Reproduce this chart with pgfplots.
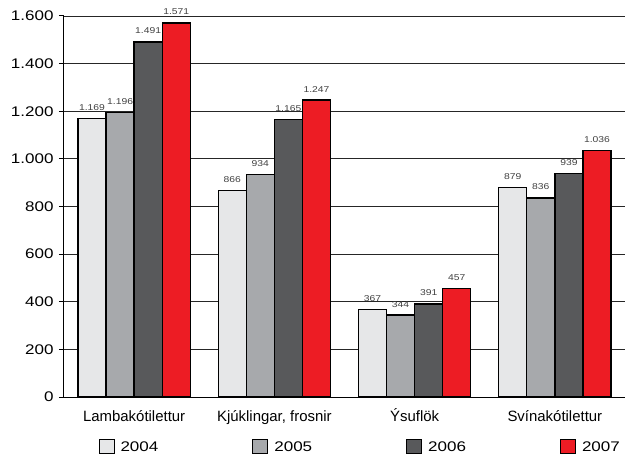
\documentclass[border=0pt]{standalone}
\usepackage{fontspec}
\setmainfont{Liberation Sans}
\newfontfamily\numfont[FakeStretch=1.22]{Liberation Sans}
\usepackage{pgfplots}
\pgfplotsset{compat=1.18}
\definecolor{cA}{HTML}{E6E7E8}
\definecolor{cB}{HTML}{A7A9AC}
\definecolor{cC}{HTML}{58595B}
\definecolor{cD}{HTML}{ED1C24}
\begin{document}
\begin{tikzpicture}
\begin{axis}[name=ax, scale only axis, width=561bp, height=381bp,
  ybar=0pt, bar width=0.2,
  xmin=-0.5, xmax=3.5, ymin=0, ymax=1600,
  ytick={0,200,...,1600},
  xtick={0,1,2,3},
  xticklabels={Lambakótilettur,{Kjúklingar, frosnir},Ýsuflök,Svínakótilettur},
  axis x line*=bottom, axis y line*=left,
  axis line style={black, line width=1bp},
  ymajorgrids, grid style={black!85, line width=0.8bp},
  tick align=outside,
  major tick length=5bp,
  x tick style={draw=none},
  y tick style={black, line width=1bp},
  extra x ticks={-0.5,0.5,1.5,2.5},
  extra x tick labels={},
  extra x tick style={grid=none, major tick length=8bp, tick style={draw=black, line width=1bp}},
  /pgf/number format/.cd, 1000 sep={.}, assume math mode=true, /pgfplots/.cd,
  yticklabel style={font=\numfont\fontsize{14}{16}\selectfont, xshift=-2bp},
  xticklabel style={font=\fontsize{15}{17}\selectfont, text height=11bp, text depth=3bp, yshift=-5bp},
  nodes near coords,
  nodes near coords style={font=\numfont\fontsize{8.5}{10}\selectfont, text=black!75, yshift=4bp},
  legend style={at={(0.528,-0.131)}, anchor=center, legend columns=4, draw=none,
    font=\numfont\fontsize{14}{16}\selectfont,
    /tikz/every odd column/.append style={column sep=4bp},
    /tikz/every even column/.append style={column sep=92bp}},
  legend image code/.code={\draw[#1, draw=black, line width=1bp] (0bp,-6bp) rectangle (15bp,8bp);},
  every axis plot/.append style={draw=black, line width=1.3bp},
]
\addplot[fill=cA] coordinates {(0,1169) (1,866) (2,367) (3,879)};
\addplot[fill=cB] coordinates {(0,1196) (1,934) (2,344) (3,836)};
\addplot[fill=cC] coordinates {(0,1491) (1,1165) (2,391) (3,939)};
\addplot[fill=cD] coordinates {(0,1571) (1,1247) (2,457) (3,1036)};
\legend{2004,2005,2006,2007}
\end{axis}
\pgfresetboundingbox
\path ([shift={(-64bp,-62bp)}]ax.south west) rectangle ++(625bp,459bp);
\end{tikzpicture}
\end{document}
